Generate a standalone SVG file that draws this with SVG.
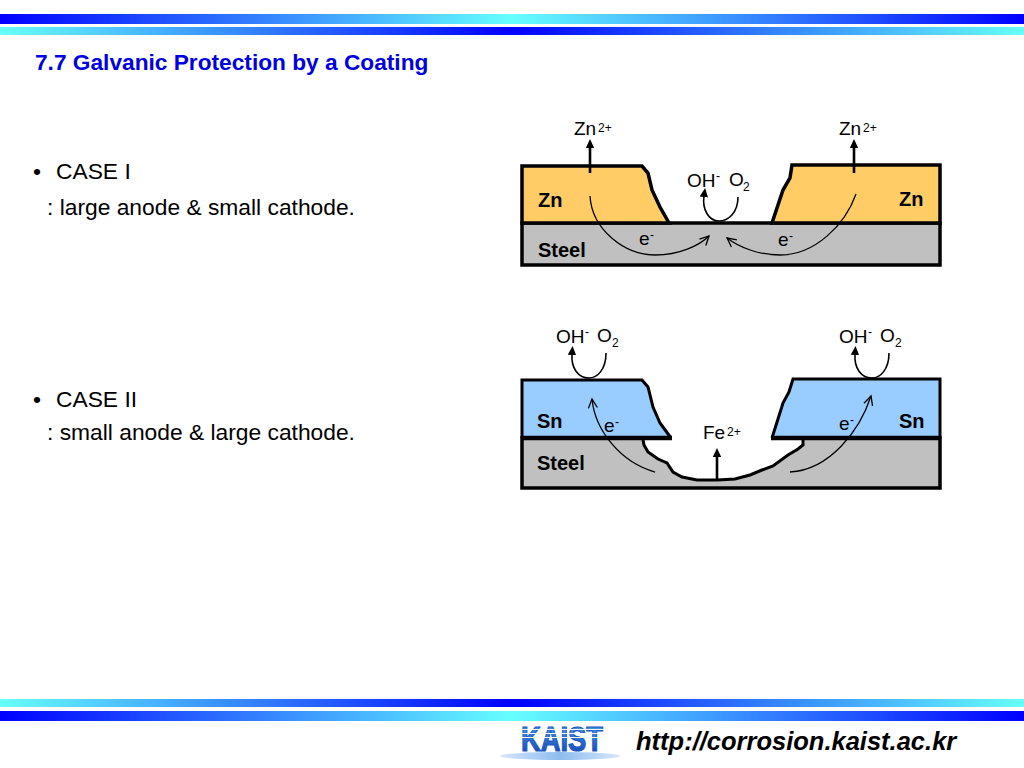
<svg xmlns="http://www.w3.org/2000/svg" width="1024" height="768" viewBox="0 0 1024 768">
<style>
text{font-family:"Liberation Sans",Arial,sans-serif;fill:#000}
.body{font-size:22.8px}
.lab{font-size:19px}
.sup{font-size:12px}
.mat{font-size:20px;font-weight:bold}
.layer{stroke:#000;stroke-width:3.5;stroke-linejoin:miter}
.zn{fill:#ffcc66}.sn{fill:#99ccff}.steel{fill:#c0c0c0}
.thick{fill:none;stroke:#000;stroke-width:3}
.base{fill:none;stroke:#000;stroke-width:4.5}
.up{fill:none;stroke:#000;stroke-width:2.6;marker-end:url(#solid)}
.curl{fill:none;stroke:#000;stroke-width:1.6;marker-end:url(#solid)}
.e{fill:none;stroke:#000;stroke-width:1.3;marker-end:url(#open)}
</style>
<defs>
<linearGradient id="bcb"><stop offset="0" stop-color="#0000ff"/><stop offset=".5" stop-color="#66ffff"/><stop offset="1" stop-color="#0000ff"/></linearGradient>
<linearGradient id="cbc"><stop offset="0" stop-color="#66ffff"/><stop offset=".5" stop-color="#0000ff"/><stop offset="1" stop-color="#66ffff"/></linearGradient>
<linearGradient id="logo" x1="0" y1="0" x2="0" y2="1"><stop offset="0" stop-color="#5aa8ea"/><stop offset="1" stop-color="#0a3fb0"/></linearGradient>
<linearGradient id="ell"><stop offset="0" stop-color="#d5e6fa"/><stop offset=".5" stop-color="#8fbcf0"/><stop offset="1" stop-color="#d5e6fa"/></linearGradient>
<marker id="solid" markerUnits="userSpaceOnUse" markerWidth="10" markerHeight="10" refX="1" refY="5" orient="auto" viewBox="0 0 10 10"><path d="M9 5L0 .8V9.2Z" fill="#000"/></marker>
<marker id="open" markerUnits="userSpaceOnUse" markerWidth="12" markerHeight="12" refX="10" refY="6" orient="auto" viewBox="0 0 12 12"><path d="M1 1.5L10 6L1 10.5" fill="none" stroke="#000" stroke-width="1.3"/></marker>
</defs>
<rect width="1024" height="768" fill="#fff"/>
<g id="header-bars">
<rect y="14" width="1024" height="10" fill="url(#bcb)"/>
<rect y="27" width="1024" height="8" fill="url(#cbc)"/>
</g>
<g id="title"><text x="35" y="70" font-size="22.7" font-weight="bold" style="fill:#0000e0">7.7 Galvanic Protection by a Coating</text></g>
<g id="case1-text">
<text class="body" x="33" y="179">•</text><text class="body" x="56" y="179">CASE I</text>
<text class="body" x="47" y="215">: large anode &amp; small cathode.</text>
</g>
<g id="case2-text">
<text class="body" x="33" y="407">•</text><text class="body" x="56" y="407">CASE II</text>
<text class="body" x="47" y="440">: small anode &amp; large cathode.</text>
</g>

<g id="case1-steel"><rect class="layer steel" x="522" y="223" width="418" height="42"/><text class="mat" x="538" y="257">Steel</text></g>
<g id="case1-zn-left"><path class="layer zn" d="M522 223V166H642L648 173L652 190L660 207L669 223Z"/><text class="mat" x="538" y="207">Zn</text></g>
<g id="case1-zn-right"><path class="layer zn" d="M940 223V165H792L790 178L783 190L772 223Z"/><text class="mat" x="899" y="206">Zn</text></g>
<g id="case1-labels">
<text class="lab" x="574" y="135">Zn</text><text class="sup" x="598" y="132">2+</text>
<text class="lab" x="839" y="135">Zn</text><text class="sup" x="863" y="132">2+</text>
<text class="lab" x="687" y="187">OH</text><text class="sup" x="716" y="180">-</text>
<text class="lab" x="729" y="186">O</text><text class="sup" x="743" y="191">2</text>
<text class="lab" x="639" y="245">e</text><text class="sup" x="650" y="239">-</text>
<text class="lab" x="778" y="246">e</text><text class="sup" x="789" y="240">-</text>
</g>
<g id="case2-steel"><path class="layer steel" d="M522 438H940V488H522Z"/><text class="mat" x="537" y="470">Steel</text></g>
<g id="case2-pit"><path d="M643 434V445L648 452L658 459L667 463L673 472L682 477L697 480H717L735 479L750 475L762 470L773 466L788 455L798 449L803 445V434Z" fill="#fff"/><path class="thick" d="M643 440L644 445L648 452L658 459L667 463L673 472L682 477L697 480H717L735 479L750 475L762 470L773 466L788 455L798 449L803 445V440"/></g>
<g id="case2-sn-left"><path class="sn" d="M522 438V380H642L648 387L653 407L660 423L671 438Z"/><path class="thick" d="M522 438V380H642L648 387L653 407L660 423L671 438"/><path class="base" d="M522 438H672"/><text class="mat" x="537" y="428">Sn</text></g>
<g id="case2-sn-right"><path class="sn" d="M940 438V379H793L789 392L783 403L772 438Z"/><path class="thick" d="M940 438V379H793L789 392L783 403L772 438"/><path class="base" d="M771 438H940"/><text class="mat" x="899" y="428">Sn</text></g>
<g id="case2-labels">
<text class="lab" x="556" y="343">OH</text><text class="sup" x="585" y="336">-</text>
<text class="lab" x="597" y="342">O</text><text class="sup" x="612" y="347">2</text>
<text class="lab" x="839" y="343">OH</text><text class="sup" x="868" y="336">-</text>
<text class="lab" x="880" y="342">O</text><text class="sup" x="895" y="347">2</text>
<text class="lab" x="604" y="432">e</text><text class="sup" x="615" y="426">-</text>
<text class="lab" x="839" y="430">e</text><text class="sup" x="850" y="424">-</text>
<text class="lab" x="703" y="439">Fe</text><text class="sup" x="727" y="436">2+</text>
</g>
<g id="connectors">
<path class="up" d="M590 173V147"/>
<path class="up" d="M854 173V147"/>
<path class="curl" d="M738 197C738 213 728 221 719 221C709 221 702 210 704 196"/>
<path class="e" d="M590 196C592 230 625 255 655 255C680 255 700 245 709 236"/>
<path class="e" d="M856 194C845 225 815 255 780 255C760 255 740 248 727 238"/>
<path class="curl" d="M606 353C606 370 597 378 589 378C578 378 571 368 572 354"/>
<path class="curl" d="M889 353C889 370 880 378 872 378C861 378 854 368 855 354"/>
<path class="up" d="M717 479V456"/>
<path class="e" d="M655 472C620 462 595 430 592 399"/>
<path class="e" d="M790 472C830 470 860 430 871 396"/>
</g>
<g id="footer-bars">
<rect y="699" width="1024" height="8" fill="url(#cbc)"/>
<rect y="711" width="1024" height="10" fill="url(#bcb)"/>
</g>
<g id="logo">
<ellipse cx="560" cy="756" rx="60" ry="4" fill="url(#ell)"/>
<text x="562" y="751" text-anchor="middle" font-size="35" font-weight="bold" textLength="82" lengthAdjust="spacingAndGlyphs" stroke="#1a55c5" stroke-width="1.2" style="fill:url(#logo)">KAIST</text>
<g fill="#fff"><rect x="518" y="729" width="88" height="1"/><rect x="518" y="733" width="88" height="1"/><rect x="518" y="737" width="88" height="1"/></g>
</g>
<g id="url"><text x="636" y="750" font-size="25.5" font-weight="bold" font-style="italic">http://corrosion.kaist.ac.kr</text></g>
</svg>
